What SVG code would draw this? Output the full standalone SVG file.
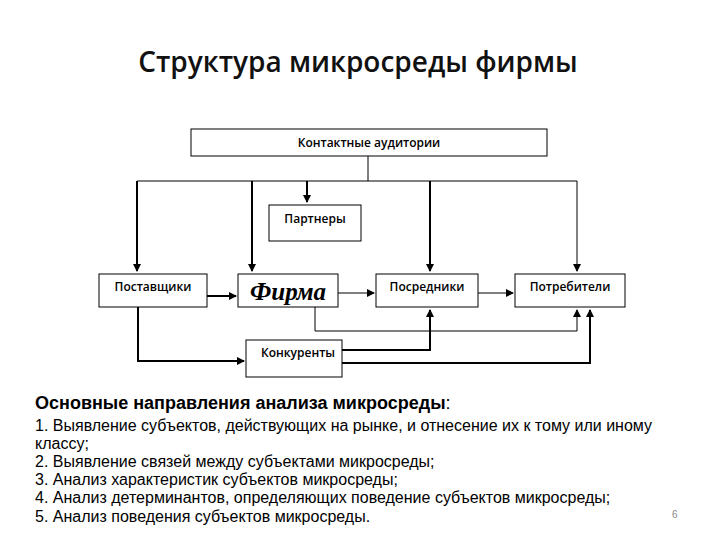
<svg xmlns="http://www.w3.org/2000/svg" width="720" height="540" viewBox="0 0 720 540">
<defs>
<marker id="a" markerWidth="8" markerHeight="8" refX="7" refY="4" orient="auto" markerUnits="userSpaceOnUse"><path d="M0,0 L8,4 L0,8 z" fill="#000"/></marker>
</defs>
<style>
.b{fill:#fff;stroke:#000;stroke-width:1}
.t{font-family:"Open Sans","Liberation Sans",sans-serif;font-size:12px;font-weight:600;text-anchor:middle}
.k{fill:none;stroke:#000;stroke-width:2}
.n{fill:none;stroke:#000;stroke-width:1}
.p{font-family:"Liberation Sans",sans-serif;font-size:16px}
</style>
<rect width="720" height="540" fill="#fff"/>
<text x="358" y="72" font-family="Open Sans,Liberation Sans,sans-serif" font-size="28" font-weight="600" text-anchor="middle" fill="#111">Структура микросреды фирмы</text>
<g id="connectors">
<path class="n" d="M368,156 V181 M137,181 H577"/>
<path class="k" d="M137,181 V271" marker-end="url(#a)"/>
<path class="k" d="M252,181 V271" marker-end="url(#a)"/>
<path class="k" d="M307,181 V202" marker-end="url(#a)"/>
<path class="k" d="M430,181 V271" marker-end="url(#a)"/>
<path class="n" d="M577,181 V271" marker-end="url(#a)"/>
<path class="k" d="M207,296 H236" marker-end="url(#a)"/>
<path class="n" d="M338,293 H374" marker-end="url(#a)"/>
<path class="n" d="M478,293 H513" marker-end="url(#a)"/>
<path class="n" d="M315,307 V331 H577 V310" marker-end="url(#a)"/>
<path class="k" d="M342,350 H430 V310" marker-end="url(#a)"/>
<path class="k" d="M342,363 H590 V310" marker-end="url(#a)"/>
<path class="k" d="M138,307 V361 H244" marker-end="url(#a)"/>
</g>
<g id="n1"><rect class="b" x="191" y="129" width="356" height="27"/><text class="t" x="369" y="147">Контактные аудитории</text></g>
<g id="n2"><rect class="b" x="269" y="205" width="92" height="36"/><text class="t" x="315" y="223">Партнеры</text></g>
<g id="n3"><rect class="b" x="99" y="274" width="108" height="33"/><text class="t" x="153" y="291">Поставщики</text></g>
<g id="n4"><rect class="b" x="238" y="274" width="100" height="33"/><text x="288" y="300" font-family="Liberation Serif,serif" font-size="25" font-style="italic" font-weight="bold" text-anchor="middle">Фирма</text></g>
<g id="n5"><rect class="b" x="376" y="274" width="102" height="33"/><text class="t" x="427" y="291">Посредники</text></g>
<g id="n6"><rect class="b" x="515" y="274" width="110" height="33"/><text class="t" x="570" y="291">Потребители</text></g>
<g id="n7"><rect class="b" x="246" y="340" width="96" height="37"/><text class="t" x="298" y="357">Конкуренты</text></g>
<text x="35" y="409" font-family="Liberation Sans,sans-serif" font-size="18" font-weight="bold">Основные направления анализа микросреды<tspan font-weight="normal">:</tspan></text>
<text class="p" x="35" y="431">1. Выявление субъектов, действующих на рынке, и отнесение их к тому или иному</text>
<text class="p" x="35" y="449">классу;</text>
<text class="p" x="35" y="467">2. Выявление связей между субъектами микросреды;</text>
<text class="p" x="35" y="485">3. Анализ характеристик субъектов микросреды;</text>
<text class="p" x="35" y="503">4. Анализ детерминантов, определяющих поведение субъектов микросреды;</text>
<text class="p" x="35" y="522">5. Анализ поведения субъектов микросреды.</text>
<text x="672" y="518" font-family="Liberation Sans,sans-serif" font-size="10" fill="#888">6</text>
</svg>
